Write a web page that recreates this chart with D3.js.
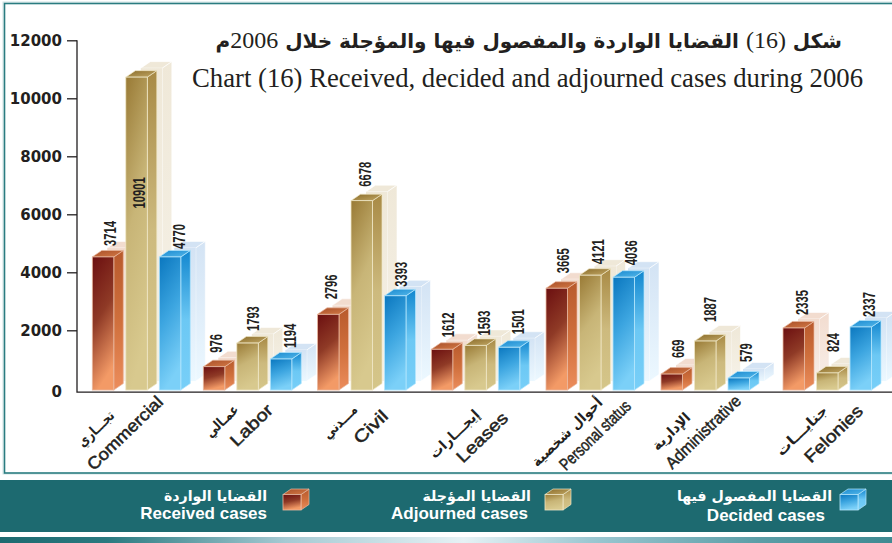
<!DOCTYPE html>
<html><head><meta charset="utf-8">
<script src="https://cdn.jsdelivr.net/npm/d3@7"></script>
<style>html,body{margin:0;padding:0;background:#fff}svg{display:block}</style></head>
<body><svg id="c" width="892" height="543"></svg>
<script>
// ---- data ----
const categoriesEn = ["Commercial","Labor","Civil","Leases","Personal status","Administrative","Felonies"];
const categoriesAr = ["تجـــاري","عمـالي","مـــدني","إيجـــارات","أحوال شخصية","الإدارية","جنايـــات"];
const seriesKeys = ["received","adjourned","decided"];
const seriesEn = ["Received cases","Adjourned cases","Decided cases"];
const seriesAr = ["القضايا الواردة","القضايا المؤجلة","القضايا المفصول فيها"];
// drawn bar heights as read against the y axis
const received  = [4530, 745, 2550, 1345, 3450, 490, 2080];
const adjourned = [10730, 1560, 6470, 1480, 3900, 1630, 530];
const decided   = [4530, 1010, 3190, 1415, 3830, 355, 2115];
// numbers printed over the bars (they differ from the drawn heights in the source)
const receivedLabels  = ["3714","976","2796","1612","3665","669","2335"];
const adjournedLabels = ["10901","1793","6678","1593","4121","1887","824"];
const decidedLabels   = ["4770","1194","3393","1501","4036","579","2337"];
const yTicks = [0,2000,4000,6000,8000,10000,12000];

// ---- layout ----
const groupLeft = [92.3,203.3,317.5,431.3,546,661,783];
const labelDx = [[18,13,20],[13,16,20],[14,14,17],[17,19,20],[17,19,18.5],[17,16,18],[19,17,19]];
const labelGap = [[11,0,8],[14,12,11],[15,14,9],[12,10,13],[15,11,12],[16,19,16],[13,21,10]];
const insideLabelValue = 6200;
const enEnd = [[160,399],[270,407],[385,413],[505,415],[628,403],[738,398],[860,408]];
const arEnd = [[112,413],[236,407],[355,407],[477,412],[600,400],[688,415],[825,408]];
const enLength = [98,52,40,64,92,97,74];
const arLength = [45,40,42,63,92,47,65];
const barW = 21.5, depthX = 9.5, depthY = 6.5, ghostX = 15, ghostY = 9;
const palette = {
  received:  {front:["#6b0f10","#8f3a26","#f39a66"], side:["#b85a2d","#cf6f3c","#ec8d5c"], top:["#a84f28","#d47a47"], edge:"#eab9a0", ghost:["#f2dccf","#f8eee8"]},
  adjourned: {front:["#997a35","#c8b577","#d8c98e"], side:["#a88a45","#cdba7e","#d5c68a"], top:["#8a6c2a","#c2a866"], edge:"#efe7c6", ghost:["#efe8d8","#f6f2e8"]},
  decided:   {front:["#0a77bf","#3ca5e0","#7bd0f8"], side:["#1287cf","#6cc8f4","#78cff8"], top:["#1a8ad0","#55b8ea"], edge:"#b5e6fd", ghost:["#d3e3f4","#ecf8ff"]}
};

const svg = d3.select("#c");
const defs = svg.append("defs");
function grad(id, stops, x2){
  const g = defs.append("linearGradient").attr("id",id).attr("x1",0).attr("y1",0).attr("x2",x2).attr("y2",1);
  stops.forEach((c,i)=>g.append("stop").attr("offset",i/(stops.length-1)).attr("stop-color",c));
}
seriesKeys.forEach(k=>{
  const p = palette[k];
  grad(k+"-front",p.front,0.25); grad(k+"-side",p.side,0);
  grad(k+"-top",p.top,1); grad(k+"-ghost",p.ghost,0);
});
const bandGrad = defs.append("linearGradient").attr("id","band");
[[0,"#1d6a70"],[0.12,"#2a7a80"],[0.32,"#a5cad3"],[0.52,"#e6f2f5"],[0.66,"#9cc8d2"],[0.85,"#5b9ea7"],[1,"#3f8a92"]]
  .forEach(s=>bandGrad.append("stop").attr("offset",s[0]).attr("stop-color",s[1]));

// frame + legend bands
svg.append("rect").attr("x",3).attr("y",2).attr("width",895).attr("height",472).attr("fill","none").attr("stroke","#cfe3e3").attr("stroke-width",1);
svg.append("rect").attr("x",4.5).attr("y",3.5).attr("width",895).attr("height",469.5).attr("fill","none").attr("stroke","#2a7c80").attr("stroke-width",1.6);
svg.append("rect").attr("x",0).attr("y",480).attr("width",892).attr("height",52).attr("fill","#1d6a70");
svg.append("rect").attr("x",0).attr("y",537).attr("width",892).attr("height",6).attr("fill","url(#band)");

// scales
const y = d3.scaleLinear().domain([0,12000]).range([388.3,40.3]);
const floorY = y(-60);
const xGroup = d3.scaleOrdinal().domain(categoriesEn).range(groupLeft);
const xSeries = d3.scalePoint().domain(seriesKeys).range([0,67]);

const rows = [[received,receivedLabels],[adjourned,adjournedLabels],[decided,decidedLabels]];
const bars = [];
categoriesEn.forEach((c,ci)=>seriesKeys.forEach((k,si)=>{
  bars.push({cat:c,ci,key:k,si,value:rows[si][0][ci],label:rows[si][1][ci]});
}));

function cube(sel,x0,x1,y0,y1,dx,dy,key){
  const pts=a=>a.map(p=>p.join(",")).join(" ");
  const e = palette[key].edge;
  sel.append("polygon").attr("points",pts([[x1,y0],[x1+dx,y0-dy],[x1+dx,y1-dy],[x1,y1]])).attr("fill",`url(#${key}-side)`).attr("stroke",e).attr("stroke-width",.7);
  sel.append("polygon").attr("points",pts([[x0,y0],[x0+dx,y0-dy],[x1+dx,y0-dy],[x1,y0]])).attr("fill",`url(#${key}-top)`).attr("stroke",e).attr("stroke-width",.7);
  sel.append("rect").attr("x",x0).attr("y",y0).attr("width",x1-x0).attr("height",y1-y0).attr("fill",`url(#${key}-front)`).attr("stroke",e).attr("stroke-width",.8);
}

// ghost shadows
const gGhost = svg.append("g");
bars.forEach(b=>{
  const x0 = xGroup(b.cat)+xSeries(b.key)+ghostX, x1=x0+barW, t=y(b.value)-ghostY, bt=floorY-ghostY;
  const f=`url(#${b.key}-ghost)`;
  gGhost.append("polygon").attr("points",[[x0,t],[x0+depthX,t-depthY],[x1+depthX,t-depthY],[x1,t]].join(" ")).attr("fill",palette[b.key].ghost[0]).attr("stroke","#fff").attr("stroke-width",.6);
  gGhost.append("polygon").attr("points",[[x1,t],[x1+depthX,t-depthY],[x1+depthX,bt-depthY],[x1,bt]].join(" ")).attr("fill",f).attr("stroke","#fff").attr("stroke-width",.6);
  gGhost.append("rect").attr("x",x0).attr("y",t).attr("width",barW).attr("height",bt-t).attr("fill",f);
});

// axes
const yAxis = d3.axisLeft(y).tickValues(yTicks).tickSize(10).tickPadding(5).tickFormat(d3.format("d"));
const ga = svg.append("g").attr("transform","translate(77,0)").call(yAxis);
ga.select(".domain").remove();
ga.selectAll(".tick line").attr("stroke","#231f20").attr("stroke-width",1.3).filter(d=>d===0).remove();
ga.selectAll(".tick text").attr("font-family","'DejaVu Sans'").attr("font-weight","bold").attr("font-size",15).attr("fill","#231f20");
ga.selectAll(".tick").filter(d=>d===0).select("text").attr("dy","0.55em");
svg.append("path").attr("d",`M77,${y(12000)}V${y(-130)}H892`).attr("fill","none").attr("stroke","#231f20").attr("stroke-width",1.3);

// bars
const gBars = svg.append("g");
bars.forEach(b=>{
  const x0 = xGroup(b.cat)+xSeries(b.key);
  cube(gBars.append("g"),x0,x0+barW,y(b.value),floorY,depthX,depthY,b.key);
});

// value labels
svg.append("g").selectAll("text").data(bars).join("text")
  .attr("transform",d=>{
    const x=xGroup(d.cat)+xSeries(d.key)+labelDx[d.ci][d.si];
    const gap=labelGap[d.ci][d.si];
    const base=gap===0?y(insideLabelValue):y(d.value)-gap;
    return `translate(${x},${base}) rotate(-90) scale(0.7,1)`;
  })
  .attr("dy","0.36em").attr("font-family","'Liberation Sans'").attr("font-weight","bold")
  .attr("font-size",16).attr("fill","#231f20").text(d=>d.label);

// category labels
svg.append("g").selectAll("text").data(categoriesEn).join("text")
  .attr("transform",(d,i)=>`translate(${enEnd[i][0]},${enEnd[i][1]}) rotate(-44)`)
  .attr("text-anchor","end").attr("dy","0.35em").attr("font-family","'Liberation Sans'").attr("font-size",17)
  .attr("textLength",(d,i)=>enLength[i]).attr("lengthAdjust","spacingAndGlyphs")
  .attr("stroke","#231f20").attr("stroke-width",.5).attr("fill","#231f20").text(d=>d);
svg.append("g").selectAll("text").data(categoriesAr).join("text")
  .attr("transform",(d,i)=>`translate(${arEnd[i][0]},${arEnd[i][1]}) rotate(-44)`)
  .attr("direction","rtl").attr("text-anchor","start").attr("dy","0.35em").attr("font-family","'DejaVu Sans'").attr("font-weight","bold").attr("font-size",14)
  .attr("textLength",(d,i)=>arLength[i]).attr("lengthAdjust","spacingAndGlyphs")
  .attr("fill","#231f20").text(d=>d);

// titles
const titleAr = svg.append("text").attr("x",842).attr("y",48).attr("direction","rtl").attr("text-anchor","start")
  .attr("font-family","'DejaVu Sans'").attr("font-weight","bold").attr("font-size",20).attr("fill","#231f20");
[["شكل ",0],["(16)",1],[" القضايا الواردة والمفصول فيها والمؤجلة خلال ",0],["2006",1],["م",0]].forEach(p=>{
  const t=titleAr.append("tspan").text(p[0]);
  if(p[1]) t.attr("font-family","'Liberation Serif'").attr("font-weight","normal").attr("font-size",24);
});
svg.append("text").attr("x",192).attr("y",87).attr("font-family","'Liberation Serif'").attr("font-size",27).attr("fill","#231f20")
  .attr("textLength",671).attr("lengthAdjust","spacingAndGlyphs").text("Chart (16) Received, decided and adjourned cases during 2006");

// legend
const legendCube = [283,545,840], legendArRight=[267,531,832], legendEnRight=[267,528,825], legendEnBase=[519,519,521];
const legendOrder = ["received","adjourned","decided"];
legendOrder.forEach((k,i)=>{
  const x=legendCube[i];
  cube(svg.append("g"),x,x+18,494.5,510,8,5.5,k);
  svg.append("text").attr("x",legendArRight[i]).attr("y",501).attr("direction","rtl").attr("text-anchor","start")
    .attr("font-family","'DejaVu Sans'").attr("font-weight","bold").attr("font-size",14.2).attr("fill","#fff").text(seriesAr[i]);
  svg.append("text").attr("x",legendEnRight[i]).attr("y",legendEnBase[i]).attr("text-anchor","end")
    .attr("font-family","'Liberation Sans'").attr("font-weight","bold").attr("font-size",17).attr("fill","#fff").text(seriesEn[i]);
});
</script></body></html>
